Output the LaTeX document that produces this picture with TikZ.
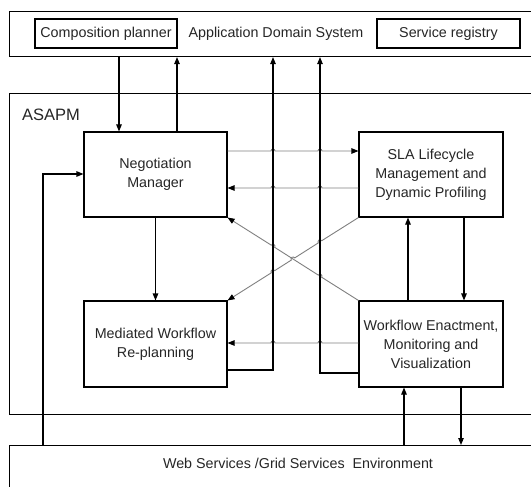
\documentclass[tikz,border=0pt]{standalone}
\usepackage{fontspec}
\setmainfont{Liberation Sans}
\usetikzlibrary{arrows.meta,calc}
\begin{document}
\begin{tikzpicture}[x=1pt,y=-1pt,
 box/.style={draw=black,line width=1.1pt,rectangle,inner sep=0pt,align=center,text=black!85,font=\fontsize{14.3}{19}\selectfont},
 frame/.style={draw=black,line width=1.1pt,rectangle,inner sep=0pt,anchor=north west},
 lbl/.style={text=black!85,font=\fontsize{14.3}{17}\selectfont,inner sep=0pt},
 blk/.style={draw=black,line width=1.1pt},
 gry/.style={draw=black!50,line width=0.9pt},
 tip/.style={-{Triangle[length=7pt,width=5.5pt,color=black]}},
]
\useasboundingbox (0,0) rectangle (531,487);
\fill[white] (0,0) rectangle (531,487);

% outer frames
\node[frame,minimum width=540pt,minimum height=45pt] (ads) at (9,11) {};
\node[frame,minimum width=540pt,minimum height=321pt] (asapm) at (9,93) {};
\node[frame,minimum width=540pt,minimum height=60pt] (web) at (9,445) {};

% labels
\node[lbl] (adstext) at (276,33.5) {Application Domain System};
\node[box,minimum width=142pt,minimum height=29pt] (cp) at (106,33.5) {Composition planner};
\node[box,minimum width=143pt,minimum height=29pt] (sr) at (448.5,33.5) {Service registry};
\node[lbl,font=\fontsize{16.5}{19}\selectfont,anchor=west] (asapmlbl) at (22,115) {ASAPM};
\node[lbl] (webtext) at (298,463) {Web Services /Grid Services\ \ Environment};

% inner boxes
\node[box,minimum width=143pt,minimum height=85pt] (nm) at (155.5,174.5) {Negotiation\\Manager};
\node[box,minimum width=144pt,minimum height=85pt] (sla) at (431,174.5) {SLA Lifecycle\\Management and\\Dynamic Profiling};
\node[box,minimum width=143pt,minimum height=86pt] (mwr) at (155.5,344) {Mediated Workflow\\Re-planning};
\node[box,minimum width=144pt,minimum height=86pt] (wem) at (431,344) {Workflow Enactment,\\Monitoring and\\Visualization};

% reference coordinates
\coordinate (xa) at (119,0);
\coordinate (xb) at (177,0);
\coordinate (xc) at (273,0);
\coordinate (xd) at (320,0);
\coordinate (xe) at (43,0);
\coordinate (xg) at (408,0);
\coordinate (xh) at (464,0);
\coordinate (xi) at (404,0);
\coordinate (xj) at (461,0);
\coordinate (y151) at (0,151);
\coordinate (y188) at (0,188);
\coordinate (y343) at (0,343);
\coordinate (y370) at (0,370);
\coordinate (y373) at (0,373);
\coordinate (y174) at (0,174);

% gray connectors with hops
\draw[gry,tip] (nm.east |- y151) -- (271,151) arc[start angle=180,end angle=0,radius=2pt]
  -- (318,151) arc[start angle=180,end angle=0,radius=2pt] -- (sla.west |- y151);
\draw[gry,tip] (sla.west |- y188) -- (322,188) arc[start angle=0,end angle=180,radius=2pt]
  -- (275,188) arc[start angle=0,end angle=180,radius=2pt] -- (nm.east |- y188);
\draw[gry,tip] (wem.west |- y343) -- (322,343) arc[start angle=0,end angle=180,radius=2pt]
  -- (275,343) arc[start angle=0,end angle=180,radius=2pt] -- (mwr.east |- y343);
\draw[gry,tip] (wem.north west) -- (321.687,277.254) arc[start angle=-32.47,end angle=147.53,radius=2pt]
  -- (274.687,247.344) arc[start angle=-32.47,end angle=147.53,radius=2pt] -- (nm.south east);
\draw[gry,tip] (sla.south west) -- (321.687,240.746) arc[start angle=32.47,end angle=212.47,radius=2pt]
  -- (294.687,257.926) arc[start angle=32.47,end angle=212.47,radius=2pt]
  -- (274.687,270.656) arc[start angle=32.47,end angle=212.47,radius=2pt] -- (mwr.north east);

% black connectors
\draw[blk,tip] (ads.south -| xa) -- (nm.north -| xa);
\draw[blk,tip] (nm.north -| xb) -- (ads.south -| xb);
\draw[blk,tip] (mwr.east |- y370) -| (ads.south -| xc);
\draw[blk,tip] (wem.west |- y373) -| (ads.south -| xd);
\draw[blk,tip] (web.north -| xe) |- (nm.west |- y174);
\draw[blk,tip] (nm.south) -- (mwr.north);
\draw[blk,tip] (wem.north -| xg) -- (sla.south -| xg);
\draw[blk,tip] (sla.south -| xh) -- (wem.north -| xh);
\draw[blk,tip] (web.north -| xi) -- (wem.south -| xi);
\draw[blk,tip] (wem.south -| xj) -- (web.north -| xj);
\end{tikzpicture}
\end{document}
